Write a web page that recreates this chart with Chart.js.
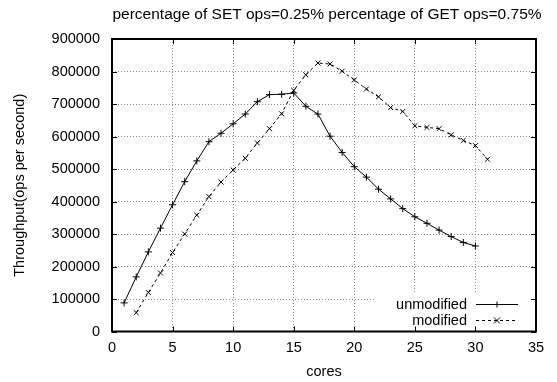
<!DOCTYPE html>
<html>
<head>
<meta charset="utf-8">
<script src="https://cdn.jsdelivr.net/npm/chart.js@4"></script>
<style>
  html, body { margin: 0; padding: 0; background: #fff; }
  #wrap { width: 557px; height: 382px; }
</style>
</head>
<body>
<div id="wrap"><canvas id="chart" width="557" height="382"></canvas></div>
<script>
// ----------------------------
// Data
// ----------------------------
const unmodifiedCores = [1, 2, 3, 4, 5, 6, 7, 8, 9, 10, 11, 12, 13, 14, 15,
  16, 17, 18, 19, 20, 21, 22, 23, 24, 25, 26, 27, 28, 29, 30];
const unmodifiedThroughput = [88000, 168000, 245000, 318000, 390000, 461000, 525000, 584000, 610000, 639000,
  669000, 707000, 729000, 730000, 734000, 693000, 669000, 601000, 551000, 507000,
  475000, 438000, 408000, 378000, 353000, 333000, 312000, 292000, 274000, 263000];

const modifiedCores = [2, 3, 4, 5, 6, 7, 8, 9, 10, 11, 12, 13, 14, 15, 16,
  17, 18, 19, 20, 21, 22, 23, 24, 25, 26, 27, 28, 29, 30, 31];
const modifiedThroughput = [58000, 120000, 180000, 243000, 300000, 358000, 415000, 460000, 497000, 533000,
  580000, 624000, 670000, 742000, 790000, 826000, 823000, 801000, 774000, 746000,
  722000, 689000, 677000, 633000, 628000, 624000, 605000, 588000, 572000, 530000];

const seriesNames = ["unmodified", "modified"];
const chartTitle = "percentage of SET ops=0.25% percentage of GET ops=0.75%";
const xTitle = "cores";
const yTitle = "Throughput(ops per second)";

const FONT = "'Liberation Sans', Arial, sans-serif";

function toPoints(xs, ys) {
  return xs.map((x, i) => ({ x: x, y: ys[i] }));
}

// ----------------------------
// Title, frame, inward ticks and in-plot legend (gnuplot style)
// ----------------------------
const gnuplotFrame = {
  id: "gnuplotFrame",
  afterDraw(chart) {
    const ctx = chart.ctx;
    const ca = chart.chartArea;
    const xs = chart.scales.x;
    const ys = chart.scales.y;
    ctx.save();

    // title, centred over the plot area
    ctx.fillStyle = "#000";
    ctx.font = "15.5px " + FONT;
    ctx.textAlign = "center";
    ctx.textBaseline = "middle";
    ctx.fillText(chartTitle, (ca.left + ca.right) / 2 + 3, 15);

    // legend box background
    const lgLeft = ca.right - 161;
    const lgTop = ca.bottom - 38;
    ctx.fillStyle = "#fff";
    ctx.fillRect(lgLeft, lgTop, ca.right - lgLeft, ca.bottom - lgTop);

    // small inward ticks
    ctx.strokeStyle = "#000";
    ctx.lineWidth = 1;
    ctx.beginPath();
    xs.ticks.forEach(t => {
      const px = Math.round(xs.getPixelForValue(t.value)) + 0.5;
      ctx.moveTo(px, ca.bottom); ctx.lineTo(px, ca.bottom - 5);
      ctx.moveTo(px, ca.top); ctx.lineTo(px, ca.top + 5);
    });
    ys.ticks.forEach(t => {
      const py = Math.round(ys.getPixelForValue(t.value)) + 0.5;
      ctx.moveTo(ca.left, py); ctx.lineTo(ca.left + 5, py);
      ctx.moveTo(ca.right, py); ctx.lineTo(ca.right - 5, py);
    });
    ctx.stroke();

    // border
    ctx.lineWidth = 2;
    ctx.strokeRect(ca.left, ca.top, ca.right - ca.left, ca.bottom - ca.top);

    // legend entries
    ctx.font = "14.5px " + FONT;
    ctx.textAlign = "right";
    ctx.textBaseline = "middle";
    chart.data.datasets.forEach((ds, i) => {
      const y = ca.bottom - 27 + i * 16;
      ctx.fillStyle = "#000";
      ctx.fillText(ds.label, ca.right - 69, y);
      ctx.strokeStyle = ds.borderColor;
      ctx.lineWidth = ds.borderWidth;
      ctx.setLineDash(ds.borderDash || []);
      ctx.beginPath();
      ctx.moveTo(ca.right - 60, y);
      ctx.lineTo(ca.right - 18, y);
      ctx.stroke();
      ctx.setLineDash([]);
      // marker
      const cx = ca.right - 39;
      const r = 3;
      ctx.lineWidth = 1;
      ctx.beginPath();
      if (ds.pointStyle === "cross") {
        ctx.moveTo(cx - r, y); ctx.lineTo(cx + r, y);
        ctx.moveTo(cx, y - r); ctx.lineTo(cx, y + r);
      } else {
        ctx.moveTo(cx - r, y - r); ctx.lineTo(cx + r, y + r);
        ctx.moveTo(cx - r, y + r); ctx.lineTo(cx + r, y - r);
      }
      ctx.stroke();
    });
    ctx.restore();
  }
};

// ----------------------------
// Chart
// ----------------------------
const ctx = document.getElementById("chart").getContext("2d");
new Chart(ctx, {
  type: "line",
  data: {
    datasets: [
      {
        label: seriesNames[0],
        data: toPoints(unmodifiedCores, unmodifiedThroughput),
        borderColor: "#000",
        backgroundColor: "#000",
        borderWidth: 1,
        pointStyle: "cross",
        pointRadius: 3.5,
        pointBorderWidth: 1,
        fill: false,
        tension: 0
      },
      {
        label: seriesNames[1],
        data: toPoints(modifiedCores, modifiedThroughput),
        borderColor: "#000",
        backgroundColor: "#000",
        borderWidth: 1,
        borderDash: [3, 3],
        pointStyle: "crossRot",
        pointRadius: 3.5,
        pointBorderWidth: 1,
        fill: false,
        tension: 0
      }
    ]
  },
  options: {
    responsive: false,
    animation: false,
    layout: { padding: { left: 0, right: 21, top: 39, bottom: 0 } },
    plugins: {
      legend: { display: false },
      tooltip: { enabled: false },
      title: { display: false }
    },
    scales: {
      x: {
        type: "linear",
        min: 0,
        max: 35,
        afterFit: s => { s.height = 50.5; },
        ticks: { stepSize: 5, color: "#000", padding: 8, font: { family: FONT, size: 14.5 }, callback: v => String(v) },
        grid: { color: "#888", lineWidth: 1, drawTicks: false },
        border: { display: false, dash: [1, 2] },
        title: { display: true, text: xTitle, color: "#000", font: { family: FONT, size: 14.5 }, padding: { top: 0, bottom: 1.3 } }
      },
      y: {
        type: "linear",
        min: 0,
        max: 900000,
        afterFit: s => { s.width = 112; },
        ticks: { stepSize: 100000, color: "#000", padding: 12, font: { family: FONT, size: 14.5 }, callback: v => String(v) },
        grid: { color: "#888", lineWidth: 1, drawTicks: false },
        border: { display: false, dash: [1, 2] },
        title: { display: true, text: yTitle, color: "#000", font: { family: FONT, size: 14.5 }, padding: { top: 11.3, bottom: 0 } }
      }
    }
  },
  plugins: [gnuplotFrame]
});
</script>
</body>
</html>
